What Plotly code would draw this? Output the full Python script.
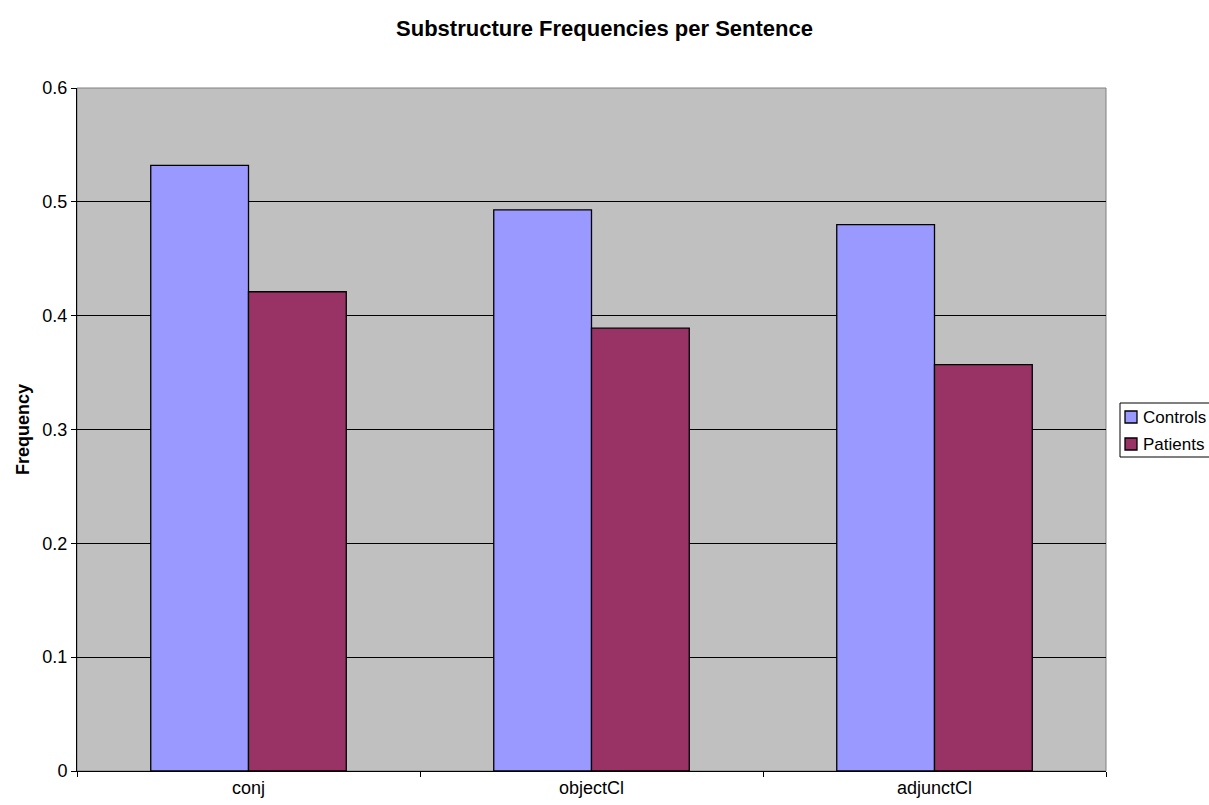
import plotly.graph_objects as go

categories = ["conj", "objectCl", "adjunctCl"]
controls = [0.532, 0.493, 0.480]
patients = [0.421, 0.389, 0.357]
series_names = ["Controls", "Patients"]
series_colors = ["#9999FF", "#993366"]

W, H = 1209, 805
L, R, T, B = 77, 103, 88, 34
pw, ph = W - L - R, H - T - B


def px(x):
    return (x - L) / pw


def py(y):
    return (H - B - y) / ph


fig = go.Figure()
for name, vals, col in zip(series_names, [controls, patients], series_colors):
    fig.add_trace(go.Bar(name=name, x=categories, y=vals,
                         marker=dict(color=col, line=dict(color="black", width=1.3))))

fig.update_layout(
    width=W, height=H,
    margin=dict(l=L, r=R, t=T, b=B, autoexpand=False),
    paper_bgcolor="white", plot_bgcolor="#C0C0C0",
    font=dict(family="Liberation Sans, Arial, sans-serif", size=18, color="black"),
    title=dict(text="<b>Substructure Frequencies per Sentence</b>", x=0.5, xanchor="center",
               y=1 - 28/805, yanchor="middle", font=dict(size=22)),
    barmode="group", bargap=0.43, bargroupgap=0,
    showlegend=False,
    xaxis=dict(showline=True, linecolor="black", linewidth=1, ticks="outside",
               tickson="boundaries", ticklen=5, tickcolor="black", showgrid=False),
    yaxis=dict(range=[0, 0.6], dtick=0.1, showline=True, linecolor="black", linewidth=1,
               ticks="outside", ticklen=5, tickcolor="black", showgrid=True,
               gridcolor="black", gridwidth=1, zeroline=False, tickformat="~g",
               title=dict(text="<b>Frequency</b>", font=dict(size=18), standoff=8)),
)
fig.add_shape(type="rect", xref="paper", yref="paper", x0=0, y0=0, x1=1, y1=1,
              line=dict(color="#808080", width=1), layer="below")

# legend box (drawn manually to match the reference layout)
fig.add_shape(type="rect", xref="paper", yref="paper",
              x0=px(1120), x1=px(1214), y0=py(457), y1=py(403),
              line=dict(color="black", width=1), fillcolor="white")
for i, (name, col) in enumerate(zip(series_names, series_colors)):
    cy = [417, 444][i]
    fig.add_shape(type="rect", xref="paper", yref="paper",
                  x0=px(1125), x1=px(1137), y0=py(cy + 6), y1=py(cy - 6),
                  line=dict(color="black", width=1.3), fillcolor=col)
    fig.add_annotation(xref="paper", yref="paper", x=px(1141), y=py(cy),
                       xanchor="left", yanchor="middle", text=name, showarrow=False,
                       font=dict(size=17))

fig.write_html("out.html")
